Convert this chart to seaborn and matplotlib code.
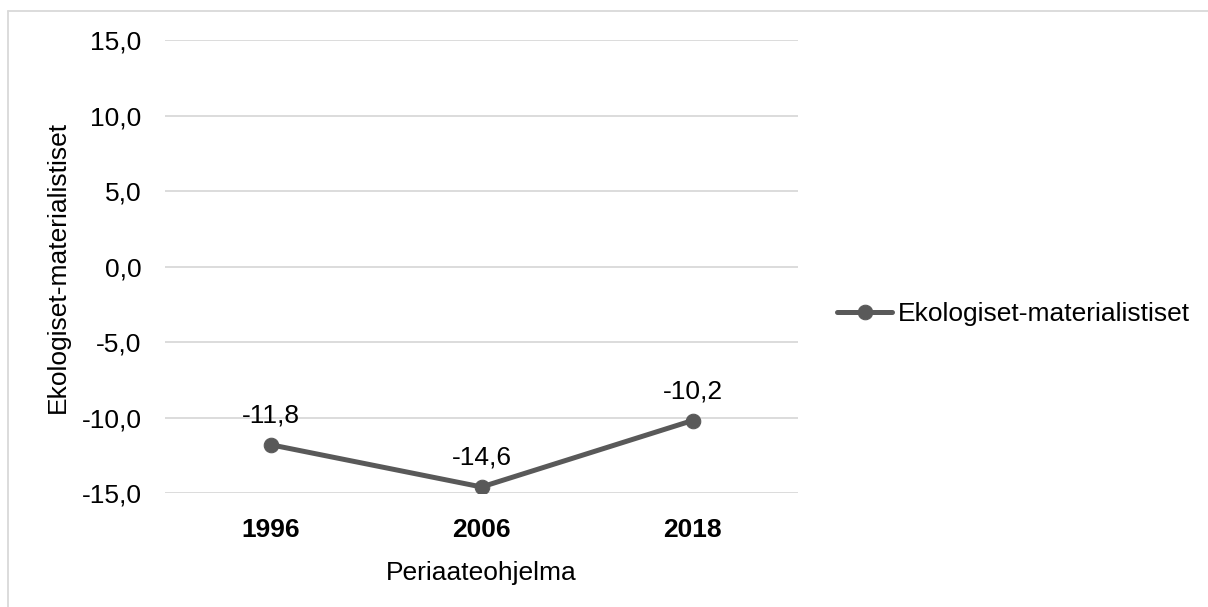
import matplotlib
matplotlib.use("Agg")
import matplotlib.pyplot as plt
import pandas as pd
import seaborn as sns
from matplotlib.lines import Line2D

years = ["1996", "2006", "2018"]
values = [-11.8, -14.6, -10.2]
series_name = "Ekologiset-materialistiset"
y_ticks = [-15, -10, -5, 0, 5, 10, 15]

df = pd.DataFrame({"year": years, "value": values})

sns.set_theme(style="white")
plt.rcParams["font.family"] = ["Liberation Sans", "DejaVu Sans"]

FS = 19
TXT = "#000000"

fig = plt.figure(figsize=(12.08, 6.07), dpi=100)
ax = fig.add_axes([0.1366, 0.1878, 0.524, 0.7462])

line_color = "#595959"
sns.lineplot(data=df, x="year", y="value", ax=ax, color=line_color,
             linewidth=3.6, marker="o", markersize=10.5, markeredgecolor=line_color,
             label=series_name, sort=False)

# data labels above each point
for i, v in enumerate(values):
    ax.annotate(f"{v:.1f}".replace(".", ","), (i, v), xytext=(0, 16),
                textcoords="offset points", ha="center", va="baseline",
                fontsize=FS, color=TXT)

ax.set_xlim(-0.5, 2.5)
ax.set_ylim(-15, 15)
ax.set_yticks(y_ticks)
ax.set_yticklabels([f"{t:.1f}".replace(".", ",") for t in y_ticks])
ax.yaxis.grid(True, color="#d9d9d9", linewidth=1.3)
ax.set_axisbelow(True)
for s in ax.spines.values():
    s.set_visible(False)
ax.tick_params(axis="y", length=0, pad=17, labelsize=FS, labelcolor=TXT)
ax.tick_params(axis="x", length=0, pad=18, labelsize=FS, labelcolor=TXT)
for lbl in ax.get_xticklabels():
    lbl.set_fontweight("bold")

ax.set_xlabel("Periaateohjelma", fontsize=FS, color=TXT, labelpad=14)
ax.set_ylabel(series_name, fontsize=FS, color=TXT, labelpad=8)

leg = ax.legend(loc="center left", bbox_to_anchor=(837 / 1208, 1 - 314 / 607),
                bbox_transform=fig.transFigure, frameon=False, fontsize=FS,
                handlelength=2.1, handletextpad=0.2, borderpad=0, borderaxespad=0)
for t in leg.get_texts():
    t.set_color(TXT)

# chart frame: only top and left edges are visible in the crop
fig.lines.append(Line2D([8 / 1208, 8 / 1208], [0, 1 - 11 / 607], transform=fig.transFigure,
                        color="#d9d9d9", linewidth=1.3))
fig.lines.append(Line2D([8 / 1208, 1], [1 - 11 / 607, 1 - 11 / 607], transform=fig.transFigure,
                        color="#d9d9d9", linewidth=1.3))

fig.savefig("out.png", dpi=100)
